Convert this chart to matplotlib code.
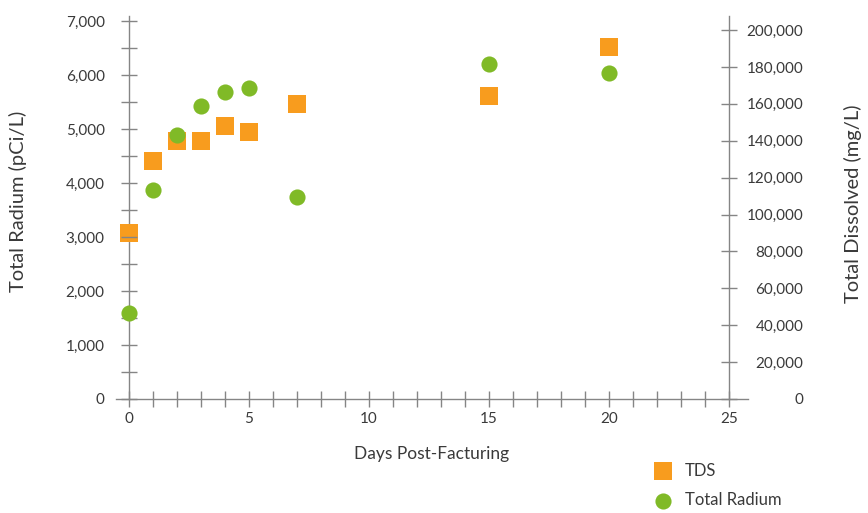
import matplotlib
matplotlib.use("Agg")
import matplotlib.pyplot as plt
from matplotlib.ticker import MultipleLocator, FuncFormatter

# data
days_tds = [0, 1, 2, 3, 4, 5, 7, 15, 20]
tds = [90000, 129000, 140000, 140000, 148000, 144700, 160000, 164200, 190800]

days_ra = [0, 1, 2, 3, 4, 5, 7, 15, 20]
radium = [1600, 3870, 4890, 5430, 5685, 5760, 3740, 6200, 6040]

left_ticks = [0, 1000, 2000, 3000, 4000, 5000, 6000, 7000]
right_ticks = [0, 20000, 40000, 60000, 80000, 100000, 120000, 140000, 160000, 180000, 200000]
x_ticks = [0, 5, 10, 15, 20, 25]

orange = "#F89C1E"
green = "#80BA27"
txt = "#3a3a3a"
axc = "#858585"

plt.rcParams["font.family"] = ["Lato", "DejaVu Sans"]

fig = plt.figure(figsize=(8.68, 5.13), dpi=100)
ax = fig.add_axes([116 / 868, 1 - 399 / 513, 632 / 868, 383 / 513])
ax2 = ax.twinx()
# radium circles sit above the TDS squares
ax.set_zorder(ax2.get_zorder() + 1)
ax.patch.set_visible(False)

ax.set_xlim(-0.54, 25.79)
ax.set_ylim(0, 7093)
ax2.set_ylim(0, 207600)

sq = ax2.scatter(days_tds, tds, marker="s", s=150, color=orange, linewidths=0, label="TDS", zorder=3)
ci = ax.scatter(days_ra, radium, marker="o", s=135, color=green, linewidths=0, label="Total Radium", zorder=3)

fmt = FuncFormatter(lambda v, p: f"{int(v):,}")

for a in (ax, ax2):
    a.spines["top"].set_visible(False)
    for s in a.spines.values():
        s.set_color(axc)
        s.set_linewidth(1.0)

# left axis line drawn by the lower axes so markers cover it
ax.spines["right"].set_visible(False)
ax.spines["left"].set_position(("data", 0))
ax.spines["left"].set_visible(False)
ax2.spines["left"].set_position(("data", 0))
ax2.spines["bottom"].set_visible(False)
ax2.spines["right"].set_position(("data", 25))

ax.set_xticks(x_ticks)
ax.xaxis.set_minor_locator(MultipleLocator(1))
ax.set_yticks(left_ticks)
ax.yaxis.set_minor_locator(MultipleLocator(500))
ax.yaxis.set_major_formatter(fmt)
ax2.set_yticks(right_ticks)
ax2.yaxis.set_major_formatter(fmt)

ax.tick_params(axis="x", which="both", direction="inout", length=11, width=1, color=axc,
               labelsize=11, labelcolor=txt, pad=4)
ax.tick_params(axis="y", which="both", direction="inout", length=11, width=1, color=axc,
               labelsize=11, labelcolor=txt, pad=12)
ax2.tick_params(axis="y", which="both", direction="inout", length=11, width=1, color=axc,
                labelsize=11, labelcolor=txt, pad=48)
for lab in ax2.get_yticklabels():
    lab.set_horizontalalignment("right")

ax.set_xlabel("Days Post-Facturing", fontsize=12.5, color=txt, labelpad=14)
fig.text(18 / 868, 1 - 201 / 513, "Total Radium (pCi/L)", rotation=90, fontsize=14.5,
         color=txt, ha="center", va="center")
fig.text(853 / 868, 1 - 204 / 513, "Total Dissolved (mg/L)", rotation=90, fontsize=14.5,
         color=txt, ha="center", va="center")

fig.legend(handles=[sq, ci], loc="upper left", bbox_to_anchor=(640 / 868, 1 - 456 / 513),
           frameon=False, fontsize=12, labelcolor=txt, handletextpad=0.3, labelspacing=0.8,
           borderaxespad=0)

fig.savefig("out.png", dpi=100)
